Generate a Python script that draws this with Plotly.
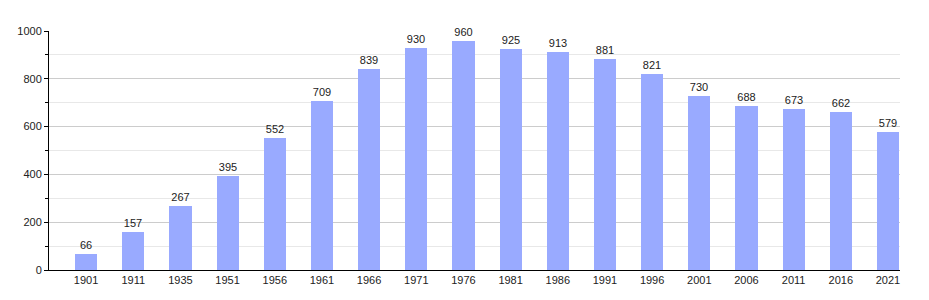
import plotly.graph_objects as go

years = ["1901", "1911", "1935", "1951", "1956", "1961", "1966", "1971", "1976",
         "1981", "1986", "1991", "1996", "2001", "2006", "2011", "2016", "2021"]
population = [66, 157, 267, 395, 552, 709, 839, 930, 960,
              925, 913, 881, 821, 730, 688, 673, 662, 579]

idx = list(range(len(years)))

fig = go.Figure()
fig.add_trace(go.Bar(
    x=idx, y=population, width=0.47,
    marker=dict(color="#99aaff", line=dict(width=0)),
    text=[str(v) for v in population], textposition="outside",
    textfont=dict(size=11, color="#222222"), cliponaxis=False,
))

fig.update_layout(
    width=929, height=300,
    margin=dict(l=49, r=29, t=31, b=30),
    paper_bgcolor="white", plot_bgcolor="white",
    font=dict(family="Liberation Sans, Arial, sans-serif", size=11, color="#222222"),
    showlegend=False,
    bargap=0,
)
fig.update_xaxes(
    range=[-0.786, 17.255], tickvals=idx, ticktext=years,
    showgrid=False, showline=True, linecolor="black", linewidth=1,
    ticks="", zeroline=False, fixedrange=True,
)
fig.update_yaxes(
    range=[0, 1000], dtick=200, showgrid=True, gridcolor="#cccccc", gridwidth=1,
    showline=True, linecolor="black", linewidth=1,
    ticks="outside", ticklen=4, tickcolor="black",
    minor=dict(dtick=100, showgrid=True, gridcolor="#e8e8e8", ticks="outside", ticklen=3, tickcolor="black"),
    zeroline=False, fixedrange=True,
)

fig.write_html("out.html")
